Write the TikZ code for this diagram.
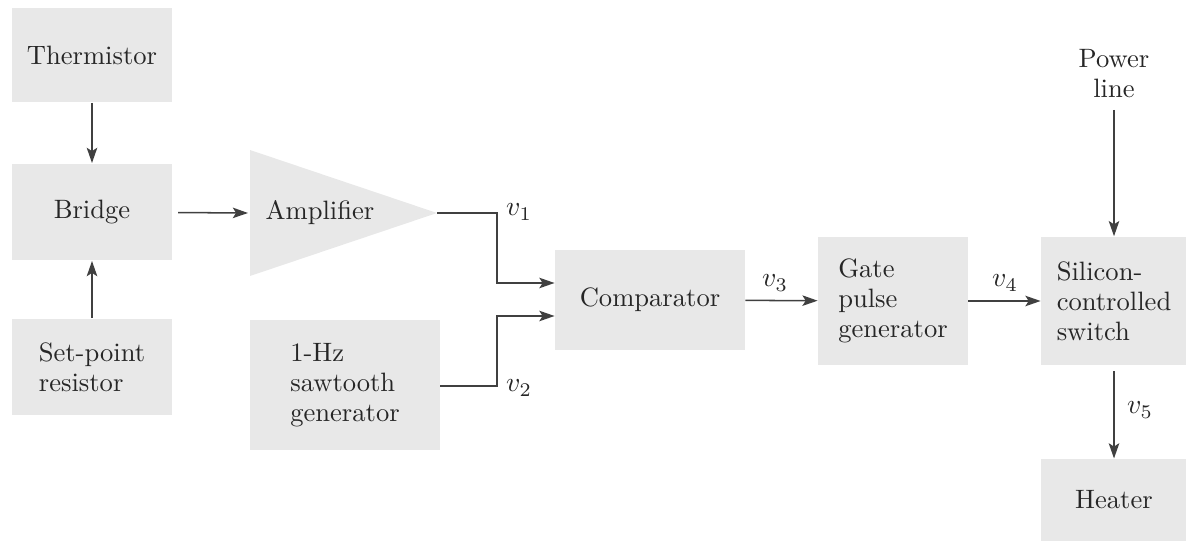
\documentclass[tikz,border=0pt]{standalone}
\usetikzlibrary{arrows.meta,positioning}

\tikzset{
  blk/.style={fill=black!9, text=black!85, inner sep=2pt,
    font=\fontsize{9.6}{10.8}\selectfont},
  lbl/.style={text=black!85, font=\fontsize{9.6}{10.8}\selectfont},
  wire/.style={draw=black!75, line width=0.55pt},
  arr/.style={wire, -{Stealth[length=5.5pt,width=3.8pt,inset=1.2pt]}},
}

\begin{document}
\begin{tikzpicture}[x=0.0127cm, y=-0.0127cm]

  %% Background
  \useasboundingbox (0,0) rectangle (1186,542);

  % Left column
  \node[blk, minimum width=2.03cm, minimum height=1.2cm] (therm) at (92,55) {Thermistor};
  \node[blk, minimum width=2.03cm, minimum height=1.23cm] (bridge) at (92,212) {Bridge};
  \node[blk, minimum width=2.03cm, minimum height=1.23cm, align=left] (setpt) at (92,367) {Set-point\\resistor};

  \draw[arr] (therm) -- (bridge);
  \draw[arr] (setpt) -- (bridge);

  % Amplifier (triangle)
  \coordinate (ampin) at (248,213);
  \coordinate (amptip) at (437,213);
  \fill[black!9] (250,150) -- (amptip) -- (250,276) -- cycle;
  \node[lbl] (amp) at (320,213) {Amplifier};
  \draw[arr, shorten <=2pt] (bridge) -- (ampin);

  % Sawtooth generator
  \node[blk, minimum width=2.41cm, minimum height=1.65cm, align=left] (saw) at (345,385) {1-Hz\\sawtooth\\generator};

  % Comparator
  \node[blk, minimum width=2.41cm, minimum height=1.27cm] (comp) at (650,300) {Comparator};

  \coordinate (k1) at (497,213);
  \coordinate (k2) at (497,283);
  \coordinate (k3) at (497,386);
  \coordinate (k4) at (497,316);
  \draw[arr] (amptip) -- (k1) -- (k2) -- (k2 -| comp.west);
  \draw[arr] (saw.east |- k3) -- (k3) -- (k4) -- (k4 -| comp.west);
  \node[lbl] (v1) at (519,212) {$v_1$};
  \node[lbl] (v2) at (519,388) {$v_2$};

  % Gate pulse generator
  \node[blk, minimum width=1.9cm, minimum height=1.63cm, align=left] (gate) at (893,301) {Gate\\pulse\\generator};
  \draw[arr] (comp) -- (gate);
  \node[lbl] (v3) at (775,283) {$v_3$};

  % Switch, power line and heater
  \node[blk, minimum width=1.85cm, minimum height=1.63cm, align=left] (scs) at (1114,301) {Silicon-\\controlled\\switch};
  \draw[arr] (gate) -- (scs);
  \node[lbl] (v4) at (1005,283) {$v_4$};

  \node[lbl, align=center, inner sep=4pt] (power) at (1114,74) {Power\\line};
  \draw[arr] (power) -- (scs);

  \node[blk, minimum width=1.85cm, minimum height=1.04cm] (heater) at (1114,500) {Heater};
  \draw[arr, shorten <=2pt] (scs) -- (heater);
  \node[lbl] (v5) at (1140,410) {$v_5$};

\end{tikzpicture}
\end{document}
